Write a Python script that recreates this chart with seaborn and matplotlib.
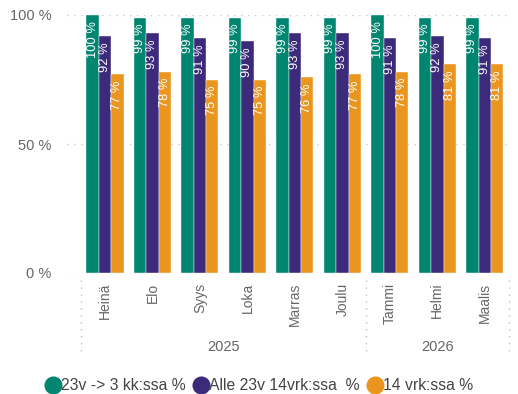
import pandas as pd
import numpy as np
import seaborn as sns
import matplotlib.pyplot as plt
import matplotlib.transforms as mtransforms
from matplotlib.lines import Line2D

# data
months = ["Heinä", "Elo", "Syys", "Loka", "Marras", "Joulu", "Tammi", "Helmi", "Maalis"]
years = ["2025", "2025", "2025", "2025", "2025", "2025", "2026", "2026", "2026"]
series = ["23v -> 3 kk:ssa %", "Alle 23v 14vrk:ssa  %", "14 vrk:ssa %"]
green_vals = [100, 99, 99, 99, 99, 99, 100, 99, 99]
purple_vals = [92, 93, 91, 90, 93, 93, 91, 92, 91]
orange_vals = [77, 78, 75, 75, 76, 77, 78, 81, 81]
colors = ["#008571", "#3C2A7B", "#EA961E"]

rows = []
for s, vals in zip(series, [green_vals, purple_vals, orange_vals]):
    for m, v in zip(months, vals):
        rows.append({"kk": m, "sarja": s, "arvo": v})
df = pd.DataFrame(rows)

sns.set_style("white")
plt.rcParams['font.family'] = ['Liberation Sans', 'DejaVu Sans']
gray = "#666666"

fig = plt.figure(figsize=(5.18, 3.94), dpi=100)
#akseli pikseleinä: vasen 67, oikea 510, ylä 15, ala 273
ax = fig.add_axes([67/518, 1-273/394, 443/518, 258/394])

sns.barplot(data=df, x="kk", y="arvo", hue="sarja", order=months, hue_order=series,
            palette=colors, width=0.78, gap=0, saturation=1, ax=ax,
            edgecolor="#ffffff", linewidth=0.3, legend=False)

ax.set_ylim(0, 100)
ax.set_xlim(-0.8, 8.53)
ax.set_yticks([0, 50, 100])
ax.set_yticklabels(["0 %", "50 %", "100 %"], fontsize=10.5, color=gray)
ax.tick_params(axis="y", length=0, pad=11)
ax.tick_params(axis="x", length=0, pad=7)
ax.set_xticks(range(len(months)))
ax.set_xticklabels(months, rotation=90, fontsize=10, color=gray, va="top")
ax.set_xlabel("")
ax.set_ylabel("")
for sp in ax.spines.values():
    sp.set_visible(False)
for yv in [0, 50, 100]:
    ax.axhline(yv, color="#c8c8c8", lw=1, ls=(0, (1, 4)), zorder=0)

# arvot palkkien sisään
for cont in ax.containers:
    for p in cont:
        h = p.get_height()
        ax.annotate(f"{h:.0f} %", (p.get_x() + p.get_width()/2, h),
                    xytext=(0, -4.5), textcoords="offset points",
                    rotation=90, ha="center", va="top", color="white", fontsize=9.3)

# vuosierottimet ja vuodet
trans = mtransforms.blended_transform_factory(ax.transData, ax.transAxes)
for xs in [-0.5, 5.5, 8.5]:
    ax.plot([xs, xs], [-0.027, -0.318], transform=trans, clip_on=False,
            color="#c0c0c0", lw=1, ls=(0, (1, 4)))
year_names = sorted(set(years))
for yname in year_names:
    idx = [i for i, y in enumerate(years) if y == yname]
    xc = (idx[0] + idx[-1]) / 2
    ax.text(xc, -0.287, yname, transform=trans, ha="center", va="center",
            fontsize=10.5, color=gray)

handles = [Line2D([], [], marker="o", ls="", markersize=12, markerfacecolor=c,
                  markeredgecolor=c) for c in colors]
fig.legend(handles, series, loc="center", bbox_to_anchor=(0.5, 1-386/394), ncol=3,
           frameon=False, fontsize=11.3, handletextpad=0.0, columnspacing=0.5,
           handlelength=1.0, labelcolor="#444444")

fig.savefig("out.png", dpi=100)
